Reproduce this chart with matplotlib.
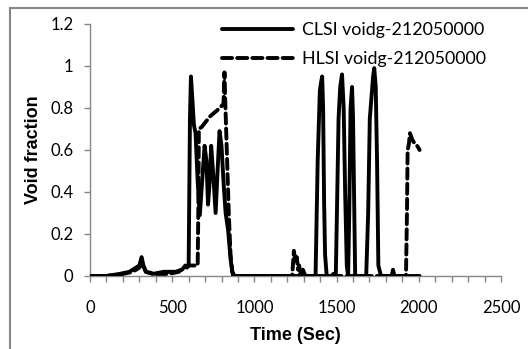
import matplotlib
matplotlib.use("Agg")
import matplotlib.pyplot as plt
from matplotlib.lines import Line2D
import numpy as np

# ---------------- data ----------------
clsi_t = [0, 100, 180, 240, 280, 300, 314, 325, 340, 380, 450, 520, 560, 580, 590,
          600, 608, 614, 622, 632, 642, 655, 668, 682, 697, 708, 718, 728, 737, 750,
          764, 776, 788, 800, 812, 825, 840, 855, 870, 900, 1000, 1100, 1200, 1270,
          1285, 1295, 1310, 1360, 1372, 1385, 1398, 1405, 1412, 1418, 1424, 1430, 1440,
          1470, 1480, 1495, 1502, 1512, 1522, 1533, 1543, 1552, 1562, 1570, 1577,
          1585, 1594, 1600, 1606, 1613, 1625, 1680, 1692, 1702, 1712, 1722, 1729,
          1738, 1746, 1754, 1770, 1850, 1950, 2005]
clsi_v = [0.0, 0.0, 0.01, 0.02, 0.04, 0.05, 0.09, 0.05, 0.02, 0.01, 0.02, 0.02, 0.03, 0.05, 0.04,
          0.05, 0.75, 0.95, 0.85, 0.72, 0.68, 0.45, 0.29, 0.45, 0.62, 0.55, 0.34, 0.45, 0.62, 0.48,
          0.30, 0.50, 0.69, 0.62, 0.45, 0.30, 0.22, 0.08, 0.0, 0.0, 0.0, 0.0, 0.0, 0.0,
          0.02, 0.03, 0.0, 0.0, 0.0, 0.55, 0.88, 0.92, 0.95, 0.80, 0.35, 0.10, 0.0,
          0.0, 0.01, 0.0, 0.30, 0.75, 0.90, 0.96, 0.80, 0.40, 0.05, 0.0, 0.30,
          0.80, 0.90, 0.75, 0.40, 0.0, 0.0, 0.0, 0.30, 0.75, 0.85, 0.95, 0.99,
          0.90, 0.55, 0.05, 0.0, 0.0, 0.0, 0.0]

hlsi_t = [0, 100, 200, 260, 300, 318, 340, 400, 480, 540, 570, 600, 630, 655, 660,
          662, 680, 700, 730, 760, 790, 812, 818, 822, 828, 836, 845, 855, 865, 880,
          1000, 1100, 1200, 1230, 1240, 1250, 1258, 1265, 1272, 1280, 1295, 1400,
          1600, 1800, 1835, 1843, 1852, 1900, 1922, 1928, 1932, 1940, 1946, 1960,
          1975, 1990, 2005]
hlsi_v = [0.0, 0.0, 0.01, 0.02, 0.04, 0.06, 0.02, 0.01, 0.01, 0.02, 0.04, 0.05, 0.05, 0.05, 0.40,
          0.70, 0.71, 0.73, 0.76, 0.78, 0.80, 0.82, 0.97, 0.85, 0.70, 0.50, 0.28, 0.10, 0.02, 0.0,
          0.0, 0.0, 0.0, 0.0, 0.12, 0.07, 0.09, 0.03, 0.05, 0.01, 0.0, 0.0,
          0.0, 0.0, 0.0, 0.03, 0.0, 0.0, 0.0, 0.30, 0.60, 0.63, 0.68, 0.65,
          0.63, 0.62, 0.60]

series_labels = ["CLSI voidg-212050000", "HLSI voidg-212050000"]
x_ticks = [0, 500, 1000, 1500, 2000, 2500]
y_ticks = [0, 0.2, 0.4, 0.6, 0.8, 1.0, 1.2]
y_ticklabels = ["0", "0.2", "0.4", "0.6", "0.8", "1", "1.2"]

# ---------------- figure ----------------
W, H = 528, 349
fig = plt.figure(figsize=(W / 100, H / 100), dpi=100)
fig.patch.set_facecolor("white")

ax = fig.add_axes([90 / W, 1 - 276 / H, (501 - 90) / W, (276 - 24) / H])

gray = "#868686"
lw = 2.8
ax.plot(clsi_t, clsi_v, color="black", lw=lw, solid_joinstyle="round",
        solid_capstyle="round", label=series_labels[0], zorder=3)
ax.plot(hlsi_t, hlsi_v, color="black", lw=lw, linestyle=(0, (2.6, 1.3)),
        dash_capstyle="round", label=series_labels[1], zorder=3)

ax.set_xlim(0, 2500)
ax.set_ylim(0, 1.2)
ax.set_xticks(x_ticks)
ax.set_xticklabels([str(v) for v in x_ticks])
ax.set_xticks(np.arange(0, 2501, 100), minor=True)
ax.set_yticks(y_ticks)
ax.set_yticklabels(y_ticklabels)

for s in ["top", "right"]:
    ax.spines[s].set_visible(False)
for s in ["left", "bottom"]:
    ax.spines[s].set_color(gray)
    ax.spines[s].set_linewidth(1.0)

tick_font = "Lato"
ax.tick_params(axis="both", which="both", direction="out", color=gray, width=1.0,
               length=4, labelsize=12, labelcolor="black")
ax.tick_params(axis="x", which="major", pad=13)
ax.tick_params(axis="y", which="major", pad=8)
for lab in ax.get_xticklabels() + ax.get_yticklabels():
    lab.set_fontfamily(tick_font)

ax.set_xlabel("Time (Sec)", fontsize=13, fontweight="bold",
              family="Liberation Sans", labelpad=8)
ax.set_ylabel("Void fraction", fontsize=13, fontweight="bold",
              family="Liberation Sans", labelpad=6)

leg = ax.legend(loc="upper left", bbox_to_anchor=(222 / W, 1 - 22 / H),
                bbox_transform=fig.transFigure, frameon=False,
                prop={"family": tick_font, "size": 12.8},
                handlelength=4.0, handletextpad=0.5, labelspacing=0.75,
                borderpad=0, borderaxespad=0)

# chart-area border (cropped box in the reference)
fig.add_artist(Line2D([10 / W, 10 / W], [0, 1 - 7.5 / H], transform=fig.transFigure,
                      color=gray, lw=1.5))
fig.add_artist(Line2D([10 / W, 1], [1 - 7.5 / H, 1 - 7.5 / H], transform=fig.transFigure,
                      color=gray, lw=1.5))

fig.savefig("out.png", dpi=100)
